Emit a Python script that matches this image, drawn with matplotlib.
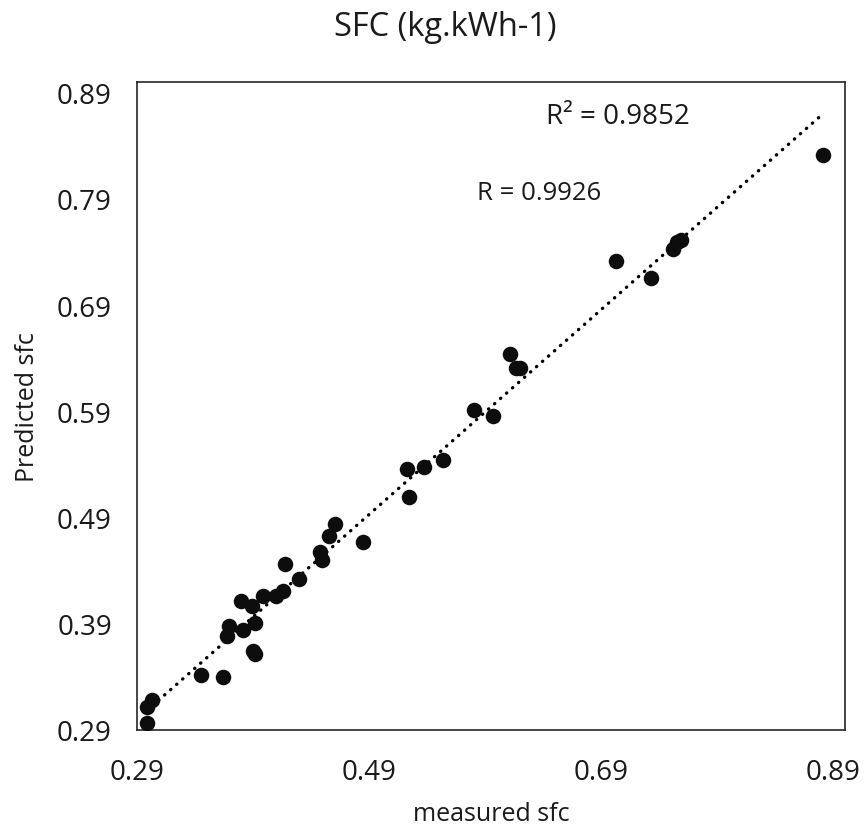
import numpy as np
import matplotlib
matplotlib.use("Agg")
import matplotlib.pyplot as plt

plt.rcParams['font.family'] = ['Open Sans', 'DejaVu Sans']

# measured vs predicted sfc
measured = [0.2983, 0.2983, 0.3026, 0.3451, 0.3643, 0.3901, 0.3916, 0.3677, 0.3692,
            0.3810, 0.3913, 0.3798, 0.3893, 0.3987, 0.4094, 0.4160, 0.4297, 0.4174,
            0.4490, 0.4475, 0.4556, 0.4604, 0.4848, 0.5227, 0.5244, 0.5373, 0.5537,
            0.5804, 0.5967, 0.6116, 0.6163, 0.6197, 0.7029, 0.7330, 0.7516, 0.7551,
            0.7588, 0.8814]
predicted = [0.2963, 0.3114, 0.3186, 0.3421, 0.3396, 0.3641, 0.3616, 0.3783, 0.3877,
             0.3842, 0.3911, 0.4118, 0.4071, 0.4159, 0.4165, 0.4206, 0.4322, 0.4464,
             0.4501, 0.4574, 0.4724, 0.4840, 0.4668, 0.5358, 0.5097, 0.5374, 0.5437,
             0.5908, 0.5855, 0.6441, 0.6312, 0.6307, 0.7315, 0.7157, 0.7431, 0.7493,
             0.7515, 0.8316]

x_ticks = [0.29, 0.49, 0.69, 0.89]
y_ticks = [0.29, 0.39, 0.49, 0.59, 0.69, 0.79, 0.89]
r2_text = "R² = 0.9852"
r_text = "R = 0.9926"

x = np.array(measured)
y = np.array(predicted)

fig = plt.figure(figsize=(8.65, 8.37), dpi=100)
ax = fig.add_axes([137/865, 1-731/837, (845-137)/865, (731-83)/837])

ax.scatter(x, y, s=125, color='#0d0d0d', zorder=3, linewidths=0)

k, b = np.polyfit(x, y, 1)
xl = np.array([x.min(), x.max()])
ax.plot(xl, k*xl + b, color='black', lw=2.4, linestyle=(0, (0.1, 2.3)),
        dash_capstyle='round', zorder=2)

ax.set_xlim(0.29, 0.90)
ax.set_ylim(0.29, 0.90)
ax.set_xticks(x_ticks)
ax.set_xticklabels([f"{v:.2f}" for v in x_ticks])
ax.set_yticks(y_ticks)
ax.set_yticklabels([f"{v:.2f}" for v in y_ticks])
ax.tick_params(length=0, labelsize=20, colors='#1a1a1a')
ax.tick_params(axis='x', pad=20)
ax.tick_params(axis='y', pad=18)
for sp in ax.spines.values():
    sp.set_color('#262626')
    sp.set_linewidth(1.2)

ax.set_xlabel("measured sfc", fontsize=18, color='#1a1a1a', labelpad=11)
ax.set_ylabel("Predicted sfc", fontsize=18, color='#1a1a1a', labelpad=12)
fig.text(445/865, 1-28/837, "SFC (kg.kWh-1)", fontsize=23.5, color='#1a1a1a',
         ha='center', va='center')

ax.text((618-137)/708, (731-117)/648, r2_text, transform=ax.transAxes,
        fontsize=20, ha='center', va='center', color='#1a1a1a')
ax.text((539-137)/708, (731-193)/648, r_text, transform=ax.transAxes,
        fontsize=18.5, ha='center', va='center', color='#1a1a1a')

fig.savefig("out.png", dpi=100)
